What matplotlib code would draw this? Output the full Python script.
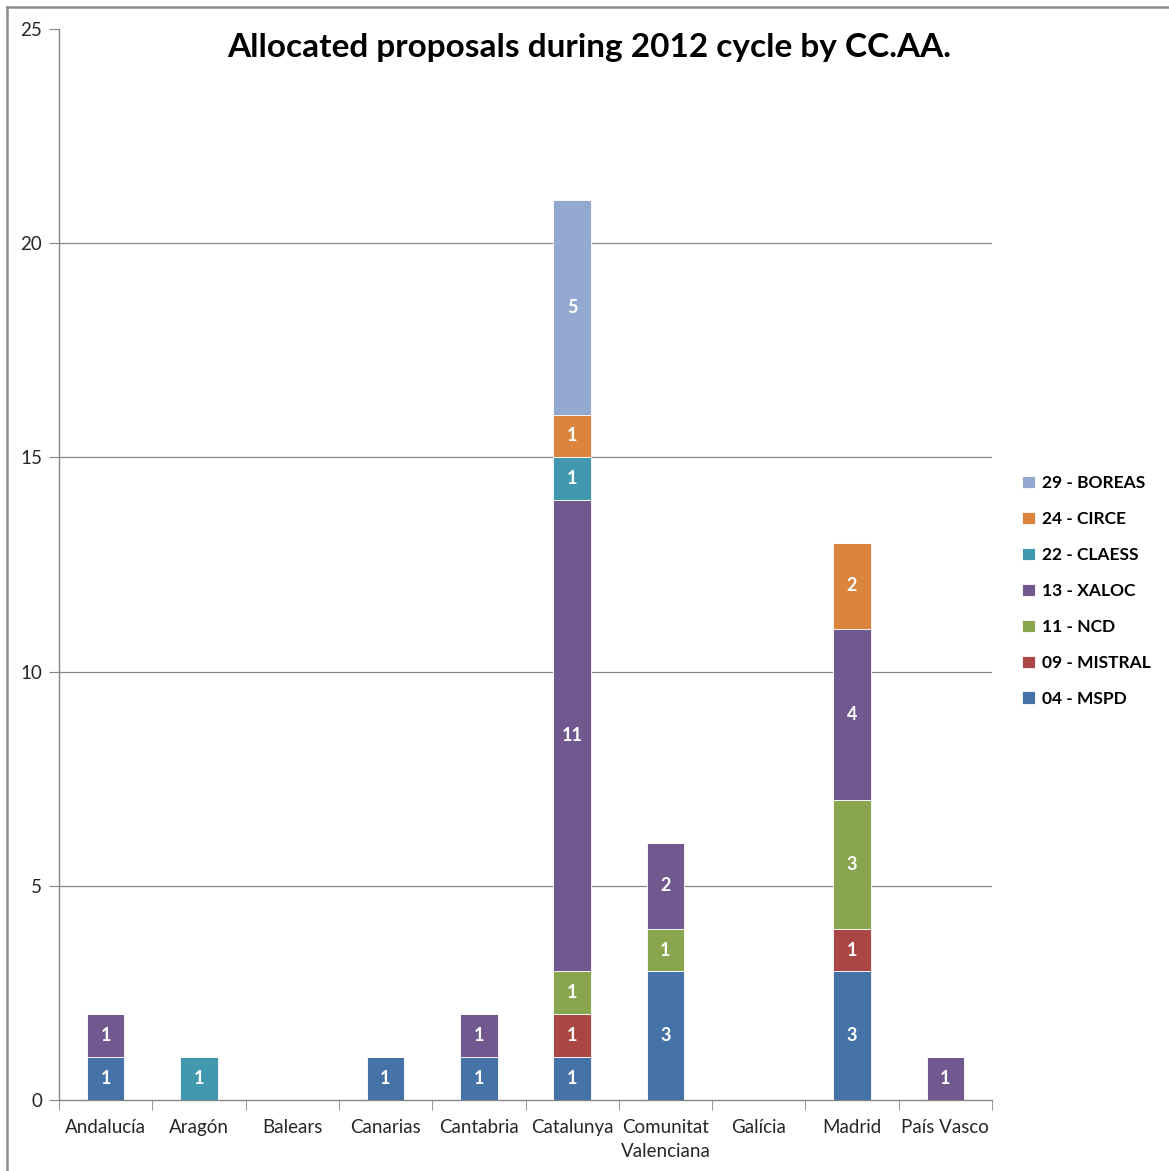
import matplotlib
matplotlib.use('Agg')
import matplotlib.pyplot as plt
from matplotlib.lines import Line2D
import numpy as np

plt.rcParams['font.family'] = ['Lato', 'DejaVu Sans']

regions = ['Andalucía', 'Aragón', 'Balears', 'Canarias', 'Cantabria', 'Catalunya',
           'Comunitat\nValenciana', 'Galícia', 'Madrid', 'País Vasco']

# proposals per machine, one list per series (bottom to top)
mspd    = [1, 0, 0, 1, 1, 1, 3, 0, 3, 0]
mistral = [0, 0, 0, 0, 0, 1, 0, 0, 1, 0]
ncd     = [0, 0, 0, 0, 0, 1, 1, 0, 3, 0]
xaloc   = [1, 0, 0, 0, 1, 11, 2, 0, 4, 1]
claess  = [0, 1, 0, 0, 0, 1, 0, 0, 0, 0]
circe   = [0, 0, 0, 0, 0, 1, 0, 0, 2, 0]
boreas  = [0, 0, 0, 0, 0, 5, 0, 0, 0, 0]

series_names = ['04 - MSPD', '09 - MISTRAL', '11 - NCD', '13 - XALOC',
                '22 - CLAESS', '24 - CIRCE', '29 - BOREAS']
series = [mspd, mistral, ncd, xaloc, claess, circe, boreas]
colors = ['#4572A7', '#AA4643', '#89A54E', '#71588F', '#4198AF', '#DB843D', '#93A9CF']

fig = plt.figure(figsize=(11.69, 11.71), dpi=100)
W, H = 1169, 1171
ax = fig.add_axes([59 / W, 1 - 1100 / H, (992 - 59) / W, (1100 - 29) / H])

# outer chart frame (only top and left edges fall inside the image)
fig.add_artist(Line2D([7 / W, 1], [1 - 7 / H, 1 - 7 / H], transform=fig.transFigure,
                      color='#8c8c8c', linewidth=1.8))
fig.add_artist(Line2D([7 / W, 7 / W], [0, 1 - 7 / H], transform=fig.transFigure,
                      color='#8c8c8c', linewidth=1.8))

x = np.arange(len(regions))
bottom = np.zeros(len(regions))
handles = []
for vals, name, col in zip(series, series_names, colors):
    vals = np.array(vals, dtype=float)
    bars = ax.bar(x, vals, width=0.4, bottom=bottom, color=col,
                  edgecolor='white', linewidth=0.6, label=name, zorder=3)
    handles.append(bars)
    for xi, v, b in zip(x, vals, bottom):
        if v > 0:
            ax.text(xi, b + v / 2, f'{int(v)}', ha='center', va='center',
                    color='white', fontsize=13, fontweight='bold', zorder=4)
    bottom += vals

ax.set_xlim(-0.5, len(regions) - 0.5)
ax.set_ylim(0, 25)
ax.set_yticks([0, 5, 10, 15, 20, 25])
ax.set_xticks(x)
ax.set_xticklabels(regions, fontsize=13.5, color='#262626', linespacing=1.5)
ax.tick_params(axis='x', length=0, pad=14)
ax.tick_params(axis='y', length=7, color='#868686', labelsize=13.5,
               labelcolor='#262626', pad=5)

# category separator ticks below the axis
ax.set_xticks(np.arange(-0.5, len(regions)), minor=True)
ax.tick_params(axis='x', which='minor', length=7, color='#868686')

for y in [5, 10, 15, 20]:
    ax.axhline(y, color='#868686', linewidth=0.9, zorder=1)

for side in ['top', 'right']:
    ax.spines[side].set_visible(False)
for side in ['left', 'bottom']:
    ax.spines[side].set_color('#868686')
    ax.spines[side].set_linewidth(1.0)

fig.text(589 / W, 1 - 47 / H, 'Allocated proposals during 2012 cycle by CC.AA.',
         ha='center', va='center', fontsize=24, fontweight='bold')

leg = fig.legend(handles[::-1], series_names[::-1], loc='center left',
                 bbox_to_anchor=(1006 / W, 1 - 591 / H), frameon=False,
                 handlelength=0.75, handleheight=0.75, handletextpad=0.4,
                 labelspacing=1.15, prop={'size': 12.5, 'weight': 'bold'})

fig.savefig('out.png', dpi=100)
